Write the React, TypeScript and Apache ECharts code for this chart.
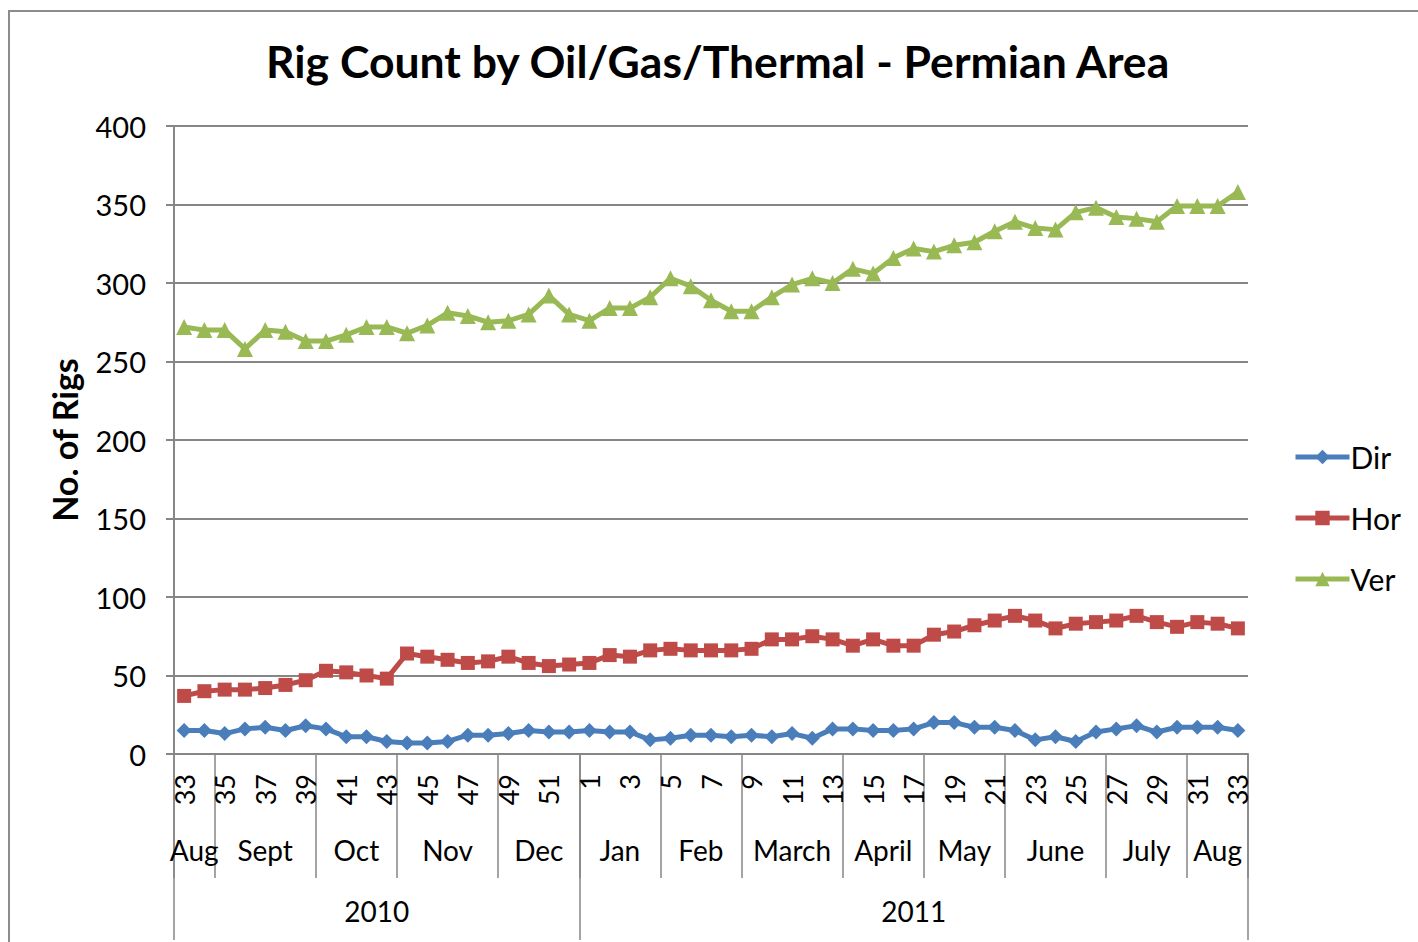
import React, { useEffect, useRef } from 'react';
import * as echarts from 'echarts';

const weeks = ['33','34','35','36','37','38','39','40','41','42','43','44','45','46','47','48','49','50','51','52',
  '1','2','3','4','5','6','7','8','9','10','11','12','13','14','15','16','17','18','19','20','21','22','23','24','25','26','27','28','29','30','31','32','33'];

const monthNames = ['Aug','Sept','Oct','Nov','Dec','Jan','Feb','March','April','May','June','July','Aug'];
const monthWeeks = [2,5,4,5,4,4,4,5,4,4,5,4,3];
const yearNames = ['2010','2011'];
const yearWeeks = [20,33];

const dir = [15,15,13,16,17,15,18,16,11,11,8,7,7,8,12,12,13,15,14,14,15,14,14,9,10,12,12,11,12,11,13,10,16,16,15,15,16,20,20,17,17,15,9,11,8,14,16,18,14,17,17,17,15];
const hor = [37,40,41,41,42,44,47,53,52,50,48,64,62,60,58,59,62,58,56,57,58,63,62,66,67,66,66,66,67,73,73,75,73,69,73,69,69,76,78,82,85,88,85,80,83,84,85,88,84,81,84,83,80];
const ver = [272,270,270,258,270,269,263,263,267,272,272,268,273,281,279,275,276,280,292,280,276,284,284,291,303,298,289,282,282,291,299,303,300,309,306,316,322,320,324,326,333,339,335,334,345,348,342,341,339,349,349,349,358];

const FONT = 'Lato, "Open Sans", sans-serif';
const GRID = '#868686';

function spans(counts: number[]) {
  const out: number[][] = [];
  let s = 0;
  counts.forEach((c) => { out.push([s, s + c - 1]); s += c; });
  return out;
}

export default function App() {
  const ref = useRef<HTMLDivElement>(null);
  useEffect(() => {
    document.body.style.margin = '0';
    const chart = echarts.init(ref.current!, null, { renderer: 'svg' });
    const monthSpans = spans(monthWeeks);
    const yearSpans = spans(yearWeeks);
    const monthStarts = new Set(monthSpans.map((m) => m[0]));
    const yearStarts = new Set(yearSpans.map((m) => m[0]));

    const groupLabel = (names: string[], dy: number) => (params: any, api: any) => {
      const s = api.coord([api.value(0), 0]);
      const e = api.coord([api.value(1), 0]);
      return {
        type: 'text',
        x: (s[0] + e[0]) / 2,
        y: s[1] + dy,
        style: {
          text: names[params.dataIndex],
          fill: '#000',
          fontSize: 28,
          fontFamily: FONT,
          align: 'center',
          verticalAlign: 'middle',
        },
      };
    };

    chart.setOption({
      animation: false,
      backgroundColor: '#ffffff',
      title: {
        text: 'Rig Count by Oil/Gas/Thermal - Permian Area',
        left: 266,
        top: 38,
        padding: 0,
        textStyle: { fontFamily: FONT, fontWeight: 'bold', fontSize: 44.5, color: '#000' },
      },
      legend: {
        orient: 'vertical',
        left: 1288,
        top: 437,
        itemWidth: 54,
        itemHeight: 18,
        itemGap: 31,
        data: ['Dir', 'Hor', 'Ver'],
        lineStyle: { width: 5 },
        textStyle: { fontFamily: FONT, fontSize: 30, color: '#000', lineHeight: 30, padding: [0, 0, 0, -4] },
      },
      graphic: [
        { type: 'rect', shape: { x: 9, y: 11, width: 1500, height: 1000 }, style: { fill: 'none', stroke: '#8c8c8c', lineWidth: 2 }, silent: true },
      ],
      grid: { left: 174, right: 170, top: 126, bottom: 188 },
      xAxis: [
        {
          type: 'category',
          data: weeks,
          position: 'bottom',
          boundaryGap: true,
          axisLine: { lineStyle: { color: GRID, width: 2 } },
          axisTick: { show: true, interval: (i: number) => monthStarts.has(i), length: 124, lineStyle: { color: GRID, width: 1.5 } },
          axisLabel: { interval: 1, rotate: 90, margin: 20, fontSize: 27, fontFamily: FONT, color: '#000' },
        },
        {
          type: 'category',
          data: weeks,
          position: 'bottom',
          boundaryGap: true,
          axisLine: { show: false },
          axisTick: { show: true, interval: (i: number) => yearStarts.has(i), length: 186, lineStyle: { color: GRID, width: 1.5 } },
          axisLabel: { show: false },
        },
      ],
      yAxis: {
        type: 'value',
        min: 0,
        max: 400,
        interval: 50,
        name: 'No. of Rigs',
        nameLocation: 'middle',
        nameGap: 93,
        nameTextStyle: { fontFamily: FONT, fontWeight: 'bold', fontSize: 34, color: '#000' },
        axisLine: { show: true, lineStyle: { color: GRID, width: 2 } },
        axisTick: { show: true, length: 8, lineStyle: { color: GRID, width: 2 } },
        axisLabel: { margin: 28, fontSize: 29, fontFamily: FONT, color: '#000' },
        splitLine: { lineStyle: { color: GRID, width: 2 } },
      },
      series: [
        { name: 'Dir', type: 'line', data: dir, symbol: 'diamond', symbolSize: 15, showAllSymbol: true,
          lineStyle: { width: 5, color: '#4A7EBB' }, itemStyle: { color: '#4A7EBB' } },
        { name: 'Hor', type: 'line', data: hor, symbol: 'rect', symbolSize: 14, showAllSymbol: true,
          lineStyle: { width: 5, color: '#BE4B48' }, itemStyle: { color: '#BE4B48' } },
        { name: 'Ver', type: 'line', data: ver, symbol: 'triangle', symbolSize: 16, showAllSymbol: true,
          lineStyle: { width: 5, color: '#98B954' }, itemStyle: { color: '#98B954' } },
        { type: 'custom', clip: false, silent: true, data: monthSpans, renderItem: groupLabel(monthNames, 96) },
        { type: 'custom', clip: false, silent: true, data: yearSpans, renderItem: groupLabel(yearNames, 157) },
      ],
    });
    return () => chart.dispose();
  }, []);
  return <div ref={ref} style={{ width: 1418, height: 942 }} />;
}
